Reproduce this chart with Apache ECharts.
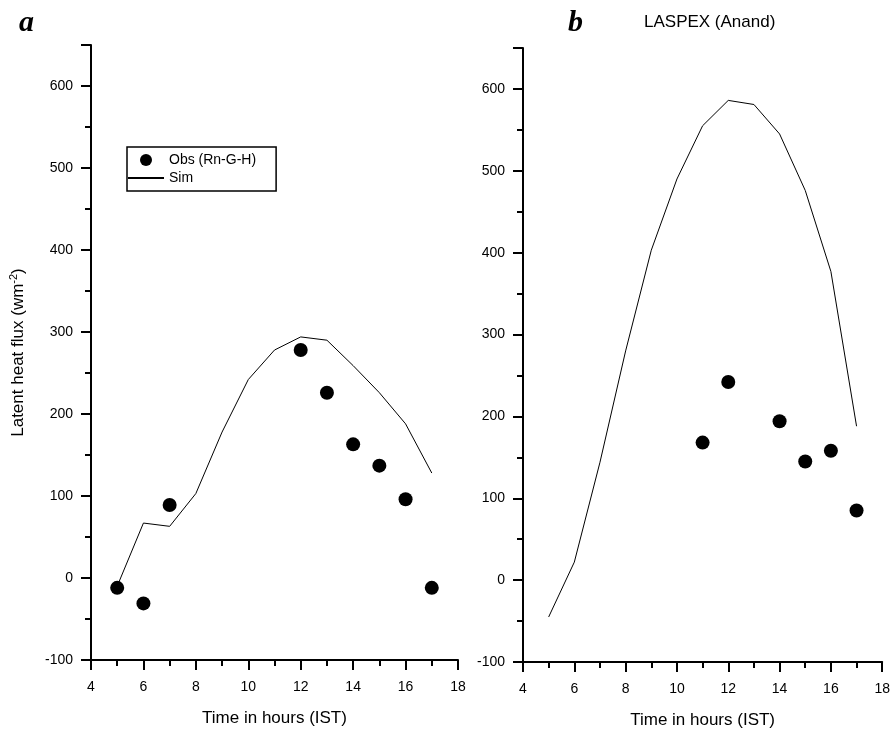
<!DOCTYPE html>
<html>
<head>
<meta charset="utf-8">
<script src="https://cdn.jsdelivr.net/npm/echarts@6/dist/echarts.min.js"></script>
<style>
  html, body { margin: 0; padding: 0; background: #fff; }
  #chart { width: 893px; height: 734px; }
</style>
</head>
<body>
<div id="chart"></div>
<script>
// panel a
const obsHoursA = [5, 6, 7, 12, 13, 14, 15, 16, 17];
const obsFluxA = [-12, -31, 89, 278, 226, 163, 137, 96, -12];
const simHoursA = [5, 6, 7, 8, 9, 10, 11, 12, 13, 14, 15, 16, 17];
const simFluxA = [-10, 67, 63, 103, 178, 242, 278, 294, 290, 259, 226, 188, 128];

// panel b
const obsHoursB = [11, 12, 14, 15, 16, 17];
const obsFluxB = [168, 242, 194, 145, 158, 85];
const simHoursB = [5, 6, 7, 8, 9, 10, 11, 12, 13, 14, 15, 16, 17];
const simFluxB = [-45, 22, 144, 280, 403, 490, 555, 586, 581, 545, 476, 377, 188];

const pair = (xs, ys) => xs.map((x, i) => [x, ys[i]]);

const font = '"Liberation Sans", Arial, sans-serif';
const serif = '"Liberation Serif", "DejaVu Serif", serif';

function xAxisFor(gridIndex) {
  return {
    gridIndex: gridIndex,
    type: 'value',
    min: 4, max: 18, interval: 2,
    name: 'Time in hours (IST)',
    nameLocation: 'middle',
    nameGap: 50,
    nameTextStyle: { fontFamily: font, fontSize: 17, color: '#000' },
    axisLine: { show: true, onZero: false, lineStyle: { color: '#000', width: 2 } },
    axisTick: { show: true, inside: false, length: 10, lineStyle: { color: '#000', width: 2 } },
    minorTick: { show: true, splitNumber: 2, length: 6, lineStyle: { color: '#000', width: 2 } },
    axisLabel: { fontFamily: font, fontSize: 14, color: '#000', margin: 20 },
    splitLine: { show: false }
  };
}

function yAxisFor(gridIndex, withName) {
  return {
    gridIndex: gridIndex,
    type: 'value',
    min: -100, max: 650, interval: 100,
    name: withName ? 'Latent heat flux (wm{sup|-2})' : '',
    nameLocation: 'middle',
    nameRotate: 90,
    nameGap: 63,
    nameTextStyle: {
      fontFamily: font, fontSize: 17, color: '#000',
      rich: { sup: { fontFamily: font, fontSize: 11, verticalAlign: 'top', padding: [0, 0, 9, 0] } }
    },
    axisLine: { show: true, onZero: false, lineStyle: { color: '#000', width: 2 } },
    axisTick: { show: true, inside: false, length: 10, lineStyle: { color: '#000', width: 2 } },
    minorTick: { show: true, splitNumber: 2, length: 6, lineStyle: { color: '#000', width: 2 } },
    axisLabel: { fontFamily: font, fontSize: 14, color: '#000', margin: 18, showMaxLabel: false },
    splitLine: { show: false }
  };
}

const chart = echarts.init(document.getElementById('chart'), null, { renderer: 'canvas' });

chart.setOption({
  animation: false,
  backgroundColor: '#fff',
  title: [
    { text: 'a', left: 14, top: 3, textStyle: { fontFamily: serif, fontStyle: 'italic', fontWeight: 'bold', fontSize: 30, color: '#000' } },
    { text: 'b', left: 563, top: 3, textStyle: { fontFamily: serif, fontStyle: 'italic', fontWeight: 'bold', fontSize: 30, color: '#000' } },
    { text: 'LASPEX (Anand)', left: 639, top: 9, textStyle: { fontFamily: font, fontWeight: 'normal', fontSize: 17, color: '#000' } }
  ],
  legend: {
    data: [
      { name: 'Obs (Rn-G-H)' },
      { name: 'Sim', itemStyle: { color: 'transparent', borderWidth: 0 } }
    ],
    orient: 'vertical',
    left: 127, top: 147,
    padding: [6, 20, 6, 0],
    itemWidth: 36, itemHeight: 12, itemGap: 4,
    borderColor: '#000', borderWidth: 1.5, borderRadius: 0,
    textStyle: { fontFamily: font, fontSize: 14, color: '#000' },
    selectedMode: false
  },
  grid: [
    { left: 91, top: 45, right: 435, bottom: 74 },
    { left: 523, top: 48, right: 8, bottom: 71 }
  ],
  xAxis: [xAxisFor(0), xAxisFor(1)],
  yAxis: [yAxisFor(0, true), yAxisFor(1, false)],
  series: [
    {
      name: 'Obs (Rn-G-H)', type: 'scatter', xAxisIndex: 0, yAxisIndex: 0,
      data: pair(obsHoursA, obsFluxA), symbol: 'circle', symbolSize: 14,
      itemStyle: { color: '#000', opacity: 1 }, z: 3
    },
    {
      name: 'Sim', type: 'line', xAxisIndex: 0, yAxisIndex: 0,
      data: pair(simHoursA, simFluxA), symbol: 'none',
      lineStyle: { color: '#000', width: 1 }, itemStyle: { color: '#000' }
    },
    {
      name: 'Obs b', type: 'scatter', xAxisIndex: 1, yAxisIndex: 1,
      data: pair(obsHoursB, obsFluxB), symbol: 'circle', symbolSize: 14,
      itemStyle: { color: '#000', opacity: 1 }, z: 3
    },
    {
      name: 'Sim b', type: 'line', xAxisIndex: 1, yAxisIndex: 1,
      data: pair(simHoursB, simFluxB), symbol: 'none',
      lineStyle: { color: '#000', width: 1 }, itemStyle: { color: '#000' }
    }
  ]
});
</script>
</body>
</html>
